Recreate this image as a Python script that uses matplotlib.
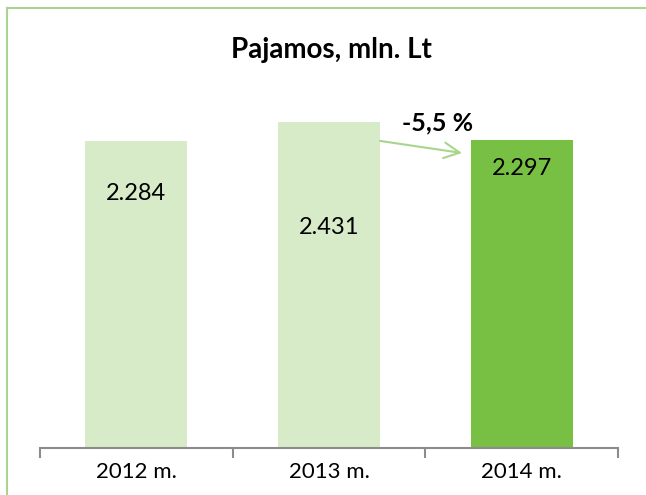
import matplotlib.pyplot as plt
from matplotlib.lines import Line2D

years = ['2012 m.', '2013 m.', '2014 m.']
values = [2.284, 2.431, 2.297]
labels = ['2.284', '2.431', '2.297']
label_y = [1.90, 1.64, 2.08]
change = '-5,5 %'

light = '#d8ebc9'
dark = '#77c043'

plt.rcParams['font.family'] = ['Lato', 'DejaVu Sans']

W, H = 646, 495
fig = plt.figure(figsize=(W / 100, H / 100), dpi=100)
ax = fig.add_axes([40 / W, 47 / H, 578 / W, 368 / H])

x = range(len(years))
colors = [light, light, dark]
ax.bar(x, values, width=0.53, color=colors)
ax.set_xlim(-0.5, 2.5)
ax.set_ylim(0, 2.742)

for i, (lab, ly) in enumerate(zip(labels, label_y)):
    ax.text(i, ly, lab, ha='center', va='center', fontsize=17, color='black')

# arrow from 2013 to 2014
ax.annotate('', xy=(1.69, 2.198), xytext=(1.265, 2.288),
            arrowprops=dict(arrowstyle='->', color='#a8d58c', lw=1.5,
                            mutation_scale=28, shrinkA=0, shrinkB=0))
ax.text(1.566, 2.42, change, ha='center', va='center', fontsize=18,
        fontweight='bold')

for s in ['top', 'right', 'left']:
    ax.spines[s].set_visible(False)
ax.spines['bottom'].set_color('#8c8c8c')
ax.spines['bottom'].set_linewidth(1.5)
ax.set_yticks([])
ax.set_xticks(list(x))
ax.set_xticklabels(years, fontsize=16)
ax.tick_params(axis='x', which='major', length=0, pad=10)
ax.set_xticks([-0.5, 0.5, 1.5, 2.5], minor=True)
ax.tick_params(axis='x', which='minor', length=7, width=1.5, color='#8c8c8c')

fig.text(331 / W, 1 - 50 / H, 'Pajamos, mln. Lt', ha='center', va='center',
         fontsize=20, fontweight='bold')

# chart frame
border = '#a9d58e'
fig.add_artist(Line2D([7 / W, 1], [1 - 8 / H, 1 - 8 / H], color=border, lw=1.5))
fig.add_artist(Line2D([7 / W, 7 / W], [0, 1 - 8 / H], color=border, lw=1.5))

fig.savefig('out.png', dpi=100)
